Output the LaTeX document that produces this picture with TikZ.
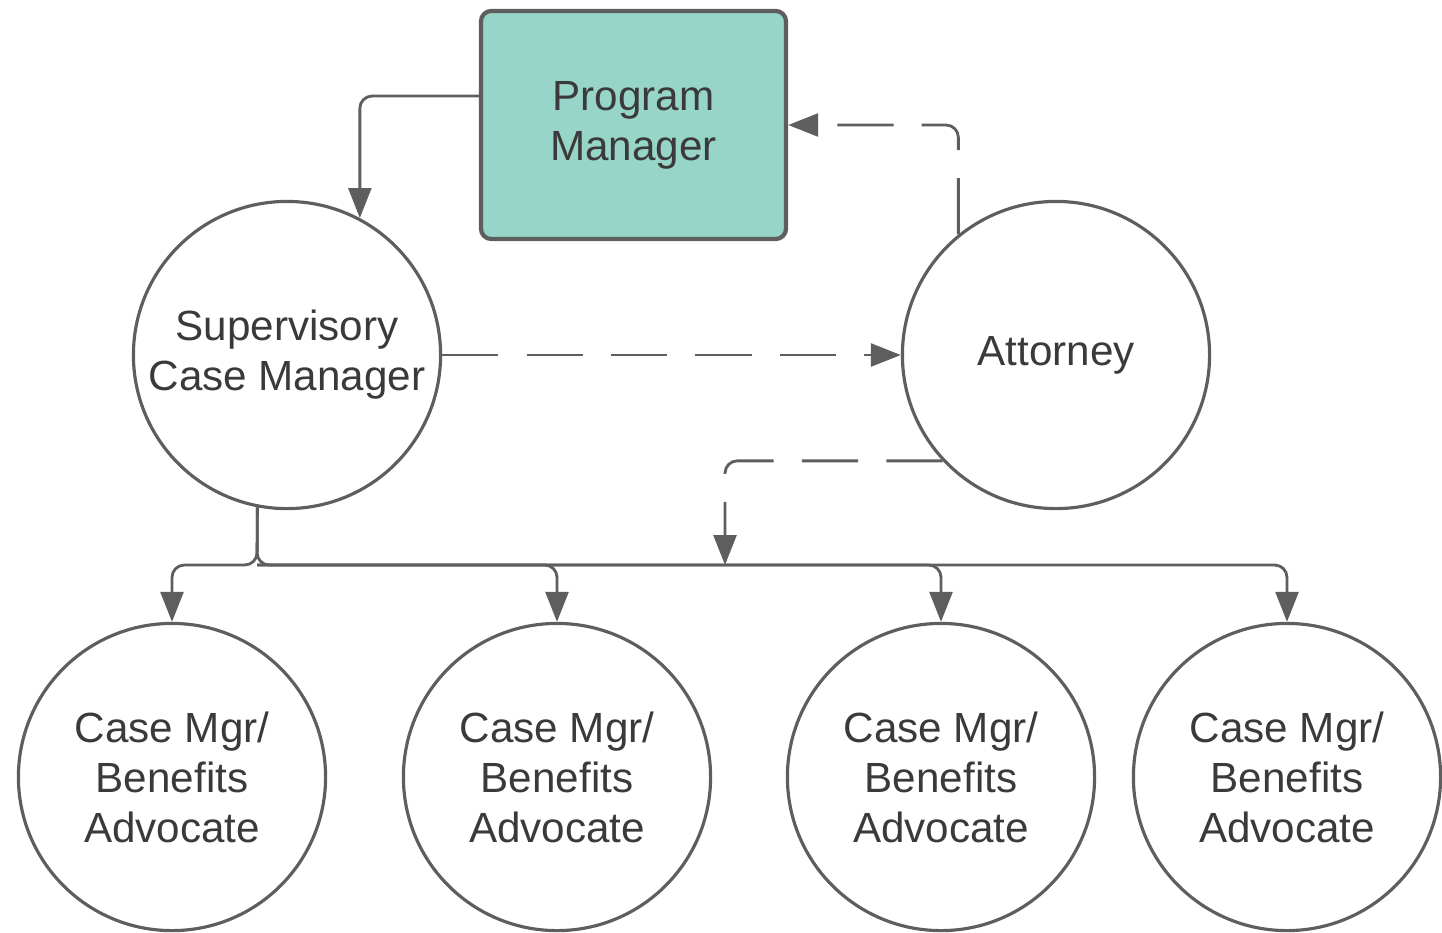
\documentclass[tikz,border=0pt]{standalone}
\usepackage{fontspec}
\setmainfont{Liberation Sans}
\usepackage{xcolor}
\usepackage{tikz}
\usetikzlibrary{positioning,arrows.meta}

\definecolor{lineg}{HTML}{5E5E5E}
\definecolor{textg}{HTML}{3A3A3A}
\definecolor{tealbox}{HTML}{97D5C9}

\begin{document}
\begin{tikzpicture}[
    x=0.01cm, y=-0.01cm,
    circ/.style={circle, draw=lineg, line width=0.9pt, minimum size=3.07cm, inner sep=0pt, align=center, text=textg, font=\fontsize{12}{14.2}\selectfont},
    pmbox/.style={rectangle, draw=lineg, line width=1.2pt, fill=tealbox, rounded corners=3pt, minimum width=3.05cm, minimum height=2.28cm, align=center, text=textg, font=\fontsize{12}{14.2}\selectfont},
    conn/.style={draw=lineg, line width=0.8pt, rounded corners=3.5pt, -{Triangle[length=8.5pt, width=6.5pt]}},
    dconn/.style={conn, dash pattern=on 16pt off 8pt}
]
\useasboundingbox (0,0) rectangle (1442,932);
% Top
\node[pmbox] (pm) at (633.5,125) {Program\\Manager};
\node[circ] (scm) at (287,355) {Supervisory\\Case Manager};
\node[circ] (att) at (1056,355) {Attorney};
% Case managers
\node[circ] (cm1) at (172,777) {Case Mgr/\\Benefits\\Advocate};
\node[circ] (cm2) at (557,777) {Case Mgr/\\Benefits\\Advocate};
\node[circ] (cm3) at (941,777) {Case Mgr/\\Benefits\\Advocate};
\node[circ] (cm4) at (1287,777) {Case Mgr/\\Benefits\\Advocate};
% Bus
\coordinate (split) at (257,565);
\coordinate (join) at (725,565);
% Arrows
\draw[conn] (pm.west |- 0,96) -| (scm.62);
\draw[dconn] (att.129) |- (pm.east);
\draw[dconn] (scm) -- (att);
\draw[dconn] (att.223) -| (join);
\draw[conn] (scm.259) -- (split) -| (cm1.north);
\draw[conn] (scm.259) -- (split) -| (cm4.north);
\draw[conn] (split) -| (cm2.north);
\draw[conn] (split) -| (cm3.north);
\end{tikzpicture}
\end{document}
